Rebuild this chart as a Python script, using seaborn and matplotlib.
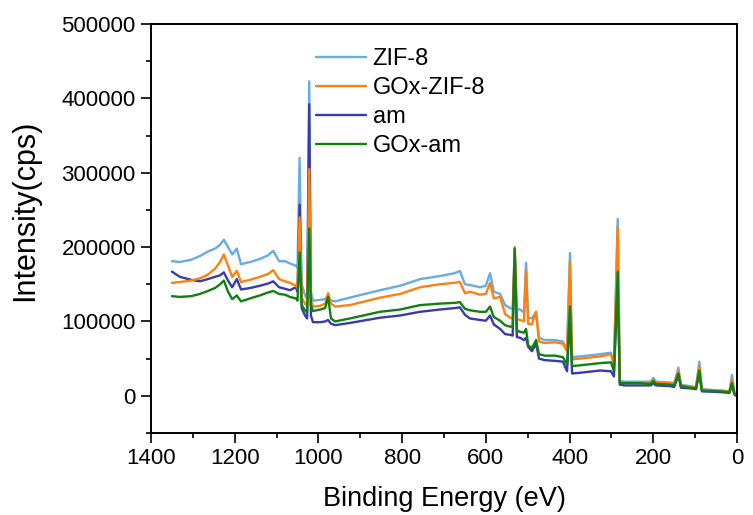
import matplotlib
matplotlib.use("Agg")
import matplotlib.pyplot as plt
from matplotlib.ticker import MultipleLocator
import seaborn as sns
import pandas as pd

# ---- data ----
energy = [1350, 1331, 1304, 1283, 1264, 1247, 1235, 1226, 1216, 1206, 1195, 1185,
          1163, 1140, 1120, 1108, 1094, 1080, 1068, 1054, 1050, 1045, 1040, 1032,
          1027, 1022, 1018, 1013, 996, 984, 977, 970, 960, 925, 853, 805, 757, 710,
          674, 662, 650, 638, 614, 600, 590, 581, 566, 554, 542, 536, 531, 526, 518,
          509, 504, 499, 490, 480, 473, 459, 435, 416, 406, 399, 394, 375, 327, 301,
          294, 285, 280, 268, 232, 206, 200, 194, 160, 150, 140, 134, 112, 98, 90,
          84, 40, 18, 12, 6, 0]

zif8 = [181000, 180000, 183000, 188000, 194000, 198000, 203000, 210000, 200000, 190000,
        198000, 177000, 180000, 184000, 189000, 195000, 181000, 181000, 178000, 175000,
        172000, 320000, 150000, 135000, 130000, 423000, 140000, 128000, 129000, 130000,
        135000, 128000, 127000, 132000, 142000, 148000, 157000, 161000, 165000, 168000,
        150000, 149000, 146000, 148000, 165000, 140000, 137000, 122000, 118000, 117000,
        196000, 117000, 116000, 112000, 179000, 105000, 104000, 113000, 78000, 75000,
        75000, 73000, 63000, 192000, 52000, 53000, 56000, 58000, 42000, 238000, 20000,
        19000, 19000, 19000, 24000, 19000, 18000, 17000, 38000, 15000, 13000, 12000,
        46000, 9000, 7000, 6000, 28000, 4000, 1000]

gox_zif8 = [152000, 153000, 155000, 158000, 163000, 171000, 180000, 190000, 175000, 160000,
            168000, 153000, 156000, 160000, 164000, 169000, 157000, 154000, 152000, 148000,
            145000, 240000, 132000, 124000, 121000, 305000, 130000, 120000, 121000, 124000,
            138000, 124000, 120000, 122000, 132000, 137000, 146000, 150000, 152000, 153000,
            138000, 140000, 136000, 137000, 152000, 131000, 133000, 110000, 105000, 104000,
            200000, 103000, 102000, 100000, 169000, 97000, 96000, 113000, 73000, 71000,
            72000, 70000, 60000, 180000, 49000, 50000, 53000, 56000, 40000, 227000, 19000,
            18000, 18000, 18000, 22000, 18000, 17000, 16000, 33000, 14000, 12000, 11000,
            40000, 8000, 7000, 6000, 22000, 3000, 0]

am = [167000, 160000, 156000, 154000, 157000, 160000, 162000, 166000, 155000, 146000,
      157000, 143000, 145000, 148000, 151000, 154000, 146000, 144000, 142000, 146000,
      140000, 257000, 118000, 108000, 104000, 392000, 108000, 99000, 99000, 100000,
      102000, 97000, 95000, 98000, 105000, 108000, 113000, 116000, 118000, 119000,
      109000, 104000, 102000, 101000, 108000, 96000, 90000, 83000, 82000, 81000,
      188000, 79000, 78000, 75000, 78000, 66000, 60000, 70000, 50000, 48000,
      47000, 46000, 33000, 110000, 30000, 31000, 34000, 33000, 26000, 155000, 15000,
      14000, 14000, 14000, 17000, 14000, 13000, 12000, 27000, 11000, 10000, 9000,
      30000, 6000, 5000, 4000, 14000, 2000, 0]

gox_am = [134000, 133000, 134000, 137000, 141000, 145000, 150000, 155000, 140000, 130000,
          135000, 127000, 131000, 135000, 139000, 141000, 137000, 136000, 133000, 131000,
          128000, 193000, 122000, 115000, 112000, 225000, 122000, 114000, 116000, 118000,
          133000, 104000, 100000, 104000, 113000, 116000, 122000, 124000, 125000, 126000,
          117000, 115000, 113000, 113000, 120000, 106000, 101000, 95000, 93000, 93000,
          198000, 88000, 86000, 85000, 90000, 68000, 64000, 75000, 56000, 54000,
          54000, 52000, 42000, 120000, 40000, 41000, 44000, 45000, 33000, 167000, 17000,
          17000, 17000, 16000, 20000, 16000, 15000, 14000, 30000, 13000, 11000, 10000,
          34000, 7000, 6000, 5000, 17000, 2000, -1000]

labels = ["ZIF-8", "GOx-ZIF-8", "am", "GOx-am"]
colors = {"ZIF-8": "#66ADE3", "GOx-ZIF-8": "#FF800E", "am": "#3A3AA8", "GOx-am": "#118011"}
series = {"ZIF-8": zif8, "GOx-ZIF-8": gox_zif8, "am": am, "GOx-am": gox_am}
draw_order = ["ZIF-8", "am", "GOx-ZIF-8", "GOx-am"]

sns.set_theme(style="ticks")
plt.rcParams["font.family"] = ["Liberation Sans", "DejaVu Sans"]
plt.rcParams["text.color"] = "black"
plt.rcParams["axes.labelcolor"] = "black"
plt.rcParams["xtick.color"] = "black"
plt.rcParams["ytick.color"] = "black"

fig = plt.figure(figsize=(7.53, 5.15), dpi=100)
ax = fig.add_axes([151 / 753, 1 - 433 / 515, (737 - 151) / 753, (433 - 24) / 515])

handles = {}
for name in draw_order:
    df = pd.DataFrame({"E": energy, "I": series[name]})
    sns.lineplot(data=df, x="E", y="I", sort=False, estimator=None, ax=ax,
                 color=colors[name], linewidth=1.7, label=name)
    handles[name] = ax.lines[-1]

ax.set_xlim(1400, 0)
ax.set_ylim(-50000, 500000)
ax.xaxis.set_major_locator(MultipleLocator(200))
ax.xaxis.set_minor_locator(MultipleLocator(100))
ax.yaxis.set_major_locator(MultipleLocator(100000))
ax.yaxis.set_minor_locator(MultipleLocator(50000))
ax.tick_params(axis="both", which="major", direction="out", length=7, width=1.2,
               labelsize=16, colors="black", labelcolor="black", pad=4)
ax.tick_params(axis="both", which="minor", direction="out", length=3.5, width=1.2,
               colors="black")
ax.tick_params(top=False, right=False)
for sp in ax.spines.values():
    sp.set_visible(True)
    sp.set_linewidth(1.4)
    sp.set_color("black")

ax.set_xlabel("Binding Energy (eV)", fontsize=19.5, labelpad=12, color="black")
ax.set_ylabel("Intensity(cps)", fontsize=22, color="black")
ax.yaxis.set_label_coords(-0.19, (433 - 210) / 409)

leg = ax.legend([handles[n] for n in labels], labels, loc="upper left",
                bbox_to_anchor=((316 - 151) / 586, 1 - (48 - 24) / 409),
                frameon=False, fontsize=17, handlelength=2.1, handletextpad=0.3,
                labelspacing=0.3, borderpad=0, borderaxespad=0)
for t in leg.get_texts():
    t.set_color("black")

fig.savefig("out.png", dpi=100)
